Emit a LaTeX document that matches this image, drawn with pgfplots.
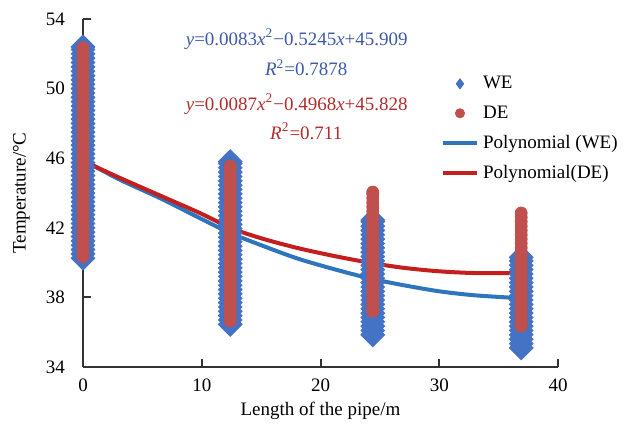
\documentclass[border=0pt]{standalone}
\usepackage{pgfplots}
\pgfplotsset{compat=1.18}
\usepackage{fontspec}
\setmainfont{Liberation Serif}
\definecolor{weblue}{RGB}{68,114,196}
\definecolor{dered}{RGB}{192,80,77}
\definecolor{fitblue}{RGB}{46,117,190}
\definecolor{fitred}{RGB}{196,30,30}
\definecolor{eqblue}{RGB}{62,90,168}
\definecolor{eqred}{RGB}{176,46,42}
\begin{document}
\begin{tikzpicture}
\path[use as bounding box] (-41.5pt,-29pt) rectangle (274pt,183.5pt);
\begin{axis}[
  at={(0,0)}, anchor=south west,
  scale only axis, width=237.5pt, height=174pt,
  xmin=0, xmax=40, ymin=34, ymax=54,
  xtick={0,10,...,40}, ytick={34,38,...,54},
  axis lines*=left, tick align=inside, major tick length=4pt,
  axis line style={line width=1pt, black!80},
  tick style={line width=1pt, black!80},
  font=\fontsize{9.5}{11}\selectfont,
  /pgf/number format/assume math mode=true,
  yticklabel style={xshift=-5.5pt},
  xticklabel style={yshift=-2.3pt},
  xlabel={Length of the pipe/m},
  ylabel={Temperature/°C},
  xlabel style={at={(axis description cs:0.5,-0.126)}, anchor=center},
  ylabel style={at={(axis description cs:-0.13,0.5)}, anchor=center},
  legend style={draw=none, fill=none, at={(axis cs:29.6,51.2)}, anchor=north west,
    font=\fontsize{9.5}{11}\selectfont, row sep=3pt},
  legend cell align=left,
]
\addlegendimage{only marks, mark=diamond*, mark size=2.5pt, weblue}
\addlegendentry{WE}
\addlegendimage{only marks, mark=*, mark size=2.3pt, dered}
\addlegendentry{DE}
\addlegendimage{fitblue, line width=2pt}
\addlegendentry{Polynomial (WE)}
\addlegendimage{fitred, line width=2pt}
\addlegendentry{Polynomial(DE)}

% WE measurements
\addplot[forget plot, only marks, mark=square*, mark size=4.2pt, weblue, mark options={rotate=45}] coordinates {
(0,40.25)(0,40.5)(0,40.75)(0,41)(0,41.25)(0,41.5)(0,41.75)(0,42)(0,42.25)(0,42.5)(0,42.75)(0,43)(0,43.25)(0,43.5)(0,43.75)(0,44)(0,44.25)(0,44.5)(0,44.75)(0,45)(0,45.25)(0,45.5)(0,45.75)(0,46)(0,46.25)(0,46.5)(0,46.75)(0,47)(0,47.25)(0,47.5)(0,47.75)(0,48)(0,48.25)(0,48.5)(0,48.75)(0,49)(0,49.25)(0,49.5)(0,49.75)(0,50)(0,50.25)(0,50.5)(0,50.75)(0,51)(0,51.25)(0,51.5)(0,51.75)(0,52)(0,52.25)(0,52.4)
(12.4,36.45)(12.4,36.7)(12.4,36.95)(12.4,37.2)(12.4,37.45)(12.4,37.7)(12.4,37.95)(12.4,38.2)(12.4,38.45)(12.4,38.7)(12.4,38.95)(12.4,39.2)(12.4,39.45)(12.4,39.7)(12.4,39.95)(12.4,40.2)(12.4,40.45)(12.4,40.7)(12.4,40.95)(12.4,41.2)(12.4,41.45)(12.4,41.7)(12.4,41.95)(12.4,42.2)(12.4,42.45)(12.4,42.7)(12.4,42.95)(12.4,43.2)(12.4,43.45)(12.4,43.7)(12.4,43.95)(12.4,44.2)(12.4,44.45)(12.4,44.7)(12.4,44.95)(12.4,45.2)(12.4,45.45)(12.4,45.7)(12.4,45.8)
(24.4,35.85)(24.4,36.1)(24.4,36.35)(24.4,36.6)(24.4,36.85)(24.4,37.1)(24.4,37.35)(24.4,37.6)(24.4,37.85)(24.4,38.1)(24.4,38.35)(24.4,38.6)(24.4,38.85)(24.4,39.1)(24.4,39.35)(24.4,39.6)(24.4,39.85)(24.4,40.1)(24.4,40.35)(24.4,40.6)(24.4,40.85)(24.4,41.1)(24.4,41.35)(24.4,41.6)(24.4,41.85)(24.4,42.1)(24.4,42.35)(24.4,42.45)
(36.9,35.1)(36.9,35.35)(36.9,35.6)(36.9,35.85)(36.9,36.1)(36.9,36.35)(36.9,36.6)(36.9,36.85)(36.9,37.1)(36.9,37.35)(36.9,37.6)(36.9,37.85)(36.9,38.1)(36.9,38.35)(36.9,38.6)(36.9,38.85)(36.9,39.1)(36.9,39.35)(36.9,39.6)(36.9,39.85)(36.9,40.1)(36.9,40.3)
};
% DE measurements
\addplot[forget plot, only marks, mark=*, mark size=3pt, dered] coordinates {
(0,40.35)(0,40.6)(0,40.85)(0,41.1)(0,41.35)(0,41.6)(0,41.85)(0,42.1)(0,42.35)(0,42.6)(0,42.85)(0,43.1)(0,43.35)(0,43.6)(0,43.85)(0,44.1)(0,44.35)(0,44.6)(0,44.85)(0,45.1)(0,45.35)(0,45.6)(0,45.85)(0,46.1)(0,46.35)(0,46.6)(0,46.85)(0,47.1)(0,47.35)(0,47.6)(0,47.85)(0,48.1)(0,48.35)(0,48.6)(0,48.85)(0,49.1)(0,49.35)(0,49.6)(0,49.85)(0,50.1)(0,50.35)(0,50.6)(0,50.85)(0,51.1)(0,51.35)(0,51.6)(0,51.85)(0,52.1)(0,52.35)
(12.4,36.65)(12.4,36.9)(12.4,37.15)(12.4,37.4)(12.4,37.65)(12.4,37.9)(12.4,38.15)(12.4,38.4)(12.4,38.65)(12.4,38.9)(12.4,39.15)(12.4,39.4)(12.4,39.65)(12.4,39.9)(12.4,40.15)(12.4,40.4)(12.4,40.65)(12.4,40.9)(12.4,41.15)(12.4,41.4)(12.4,41.65)(12.4,41.9)(12.4,42.15)(12.4,42.4)(12.4,42.65)(12.4,42.9)(12.4,43.15)(12.4,43.4)(12.4,43.65)(12.4,43.9)(12.4,44.15)(12.4,44.4)(12.4,44.65)(12.4,44.9)(12.4,45.15)(12.4,45.4)(12.4,45.55)
(24.4,37.2)(24.4,37.45)(24.4,37.7)(24.4,37.95)(24.4,38.2)(24.4,38.45)(24.4,38.7)(24.4,38.95)(24.4,39.2)(24.4,39.45)(24.4,39.7)(24.4,39.95)(24.4,40.2)(24.4,40.45)(24.4,40.7)(24.4,40.95)(24.4,41.2)(24.4,41.45)(24.4,41.7)(24.4,41.95)(24.4,42.2)(24.4,42.45)(24.4,42.7)(24.4,42.95)(24.4,43.2)(24.4,43.45)(24.4,43.7)(24.4,43.95)(24.4,44.05)
(36.9,36.35)(36.9,36.6)(36.9,36.85)(36.9,37.1)(36.9,37.35)(36.9,37.6)(36.9,37.85)(36.9,38.1)(36.9,38.35)(36.9,38.6)(36.9,38.85)(36.9,39.1)(36.9,39.35)(36.9,39.6)(36.9,39.85)(36.9,40.1)(36.9,40.35)(36.9,40.6)(36.9,40.85)(36.9,41.1)(36.9,41.35)(36.9,41.6)(36.9,41.85)(36.9,42.1)(36.9,42.35)(36.9,42.6)(36.9,42.85)
};
% fitted curves
\addplot[forget plot, smooth, fitblue, line width=2pt] coordinates {
(0,45.9)(3,44.8)(6.5,43.7)(10,42.5)(12.4,41.7)(15,41.0)(18,40.25)(21,39.65)(24.1,39.1)(27,38.7)(30,38.35)(33,38.12)(36.9,37.95)};
\addplot[forget plot, smooth, fitred, line width=2pt] coordinates {
(0,45.85)(3,44.9)(6.5,43.85)(10,42.8)(12.4,42.0)(15,41.4)(18,40.85)(21,40.4)(24.1,40.0)(27,39.7)(30,39.5)(33,39.4)(36.9,39.4)};

\node[eqblue] at (axis cs:18.0,52.85) {\textit{y}=0.0083\textit{x}\textsuperscript{2}−0.5245\textit{x}+45.909};
\node[eqblue] at (axis cs:18.8,51.2) {\textit{R}\textsuperscript{2}=0.7878};
\node[eqred] at (axis cs:18.0,49.1) {\textit{y}=0.0087\textit{x}\textsuperscript{2}−0.4968\textit{x}+45.828};
\node[eqred] at (axis cs:18.8,47.55) {\textit{R}\textsuperscript{2}=0.711};
\end{axis}
\end{tikzpicture}
\end{document}
